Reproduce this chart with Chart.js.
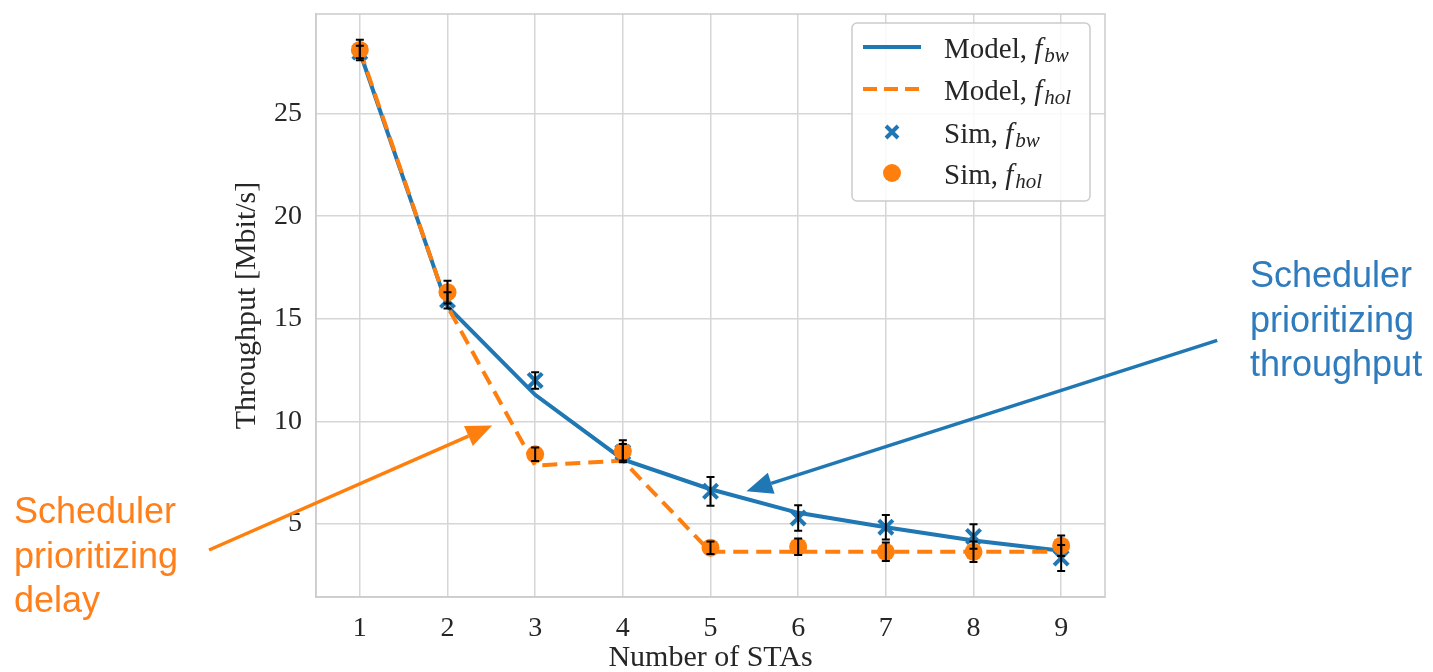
<!DOCTYPE html>
<html>
<head>
<meta charset="utf-8">
<script src="https://cdn.jsdelivr.net/npm/chart.js@4.4.1/dist/chart.umd.min.js"></script>
<style>
  body { margin: 0; background: #fff; }
  #wrap { width: 1433px; height: 672px; }
</style>
</head>
<body>
<div id="wrap"><canvas id="myChart" width="1433" height="672"></canvas></div>
<script>
// number of stations
var nSta = [1, 2, 3, 4, 5, 6, 7, 8, 9];
// model curves
var modelBw  = [28.0, 15.6, 11.3, 8.15, 6.7, 5.55, 4.85, 4.2, 3.7];
var modelHol = [28.1, 15.6, 7.85, 8.1, 3.65, 3.65, 3.65, 3.65, 3.65];
// simulation points and their error (+/-)
var simBw     = [28.0, 15.9, 12.0, 8.5, 6.6, 5.3, 4.85, 4.4, 3.35];
var simBwErr  = [0.3, 0.4, 0.4, 0.4, 0.7, 0.62, 0.6, 0.6, 0.63];
var simHol    = [28.1, 16.3, 8.4, 8.55, 3.85, 3.9, 3.65, 3.65, 3.95];
var simHolErr = [0.5, 0.55, 0.33, 0.53, 0.3, 0.4, 0.45, 0.5, 0.5];
var yTicks = [5, 10, 15, 20, 25];

var blue = '#1f77b4';
var orange = '#ff7f0e';
var serif = '"Liberation Serif", "DejaVu Serif", serif';

function pts(vals) {
    return vals.map(function (v, i) { return {x: nSta[i], y: v}; });
}

// top/right spines + error bars on top of the markers
var errorBars = {
    id: 'errorBars',
    beforeDatasetsDraw: function (chart) {
        var a = chart.chartArea, ctx = chart.ctx;
        ctx.save();
        ctx.strokeStyle = '#cccccc';
        ctx.lineWidth = 1.5;
        ctx.strokeRect(a.left, a.top, a.right - a.left, a.bottom - a.top);
        ctx.restore();
    },
    afterDatasetsDraw: function (chart) {
        var ctx = chart.ctx;
        var xs = chart.scales.x, ys = chart.scales.y;
        ctx.save();
        ctx.strokeStyle = '#000';
        ctx.lineWidth = 2;
        [[simBw, simBwErr], [simHol, simHolErr]].forEach(function (s) {
            s[0].forEach(function (v, i) {
                var x = xs.getPixelForValue(nSta[i]);
                var y1 = ys.getPixelForValue(v + s[1][i]);
                var y2 = ys.getPixelForValue(v - s[1][i]);
                ctx.beginPath();
                ctx.moveTo(x, y1); ctx.lineTo(x, y2);
                ctx.moveTo(x - 4, y1); ctx.lineTo(x + 4, y1);
                ctx.moveTo(x - 4, y2); ctx.lineTo(x + 4, y2);
                ctx.stroke();
            });
        });
        ctx.restore();
    }
};

// legend with italic subscripts
var fancyLegend = {
    id: 'fancyLegend',
    afterDraw: function (chart) {
        var ctx = chart.ctx;
        ctx.save();
        var bx = 852, by = 23, bw = 238, bh = 178;
        ctx.beginPath();
        ctx.roundRect(bx, by, bw, bh, 5);
        ctx.fillStyle = 'rgba(255,255,255,0.85)';
        ctx.fill();
        ctx.strokeStyle = '#cccccc';
        ctx.lineWidth = 1.5;
        ctx.stroke();

        var rows = [
            {kind: 'line', color: blue, dash: [], name: 'Model, ', sub: 'bw', y: 47},
            {kind: 'line', color: orange, dash: [14, 7], name: 'Model, ', sub: 'hol', y: 89},
            {kind: 'cross', color: blue, name: 'Sim, ', sub: 'bw', y: 132},
            {kind: 'dot', color: orange, name: 'Sim, ', sub: 'hol', y: 173}
        ];
        rows.forEach(function (r) {
            ctx.strokeStyle = r.color;
            ctx.fillStyle = r.color;
            if (r.kind === 'line') {
                ctx.lineWidth = 4;
                ctx.setLineDash(r.dash);
                ctx.beginPath();
                ctx.moveTo(863, r.y); ctx.lineTo(921, r.y);
                ctx.stroke();
                ctx.setLineDash([]);
            } else if (r.kind === 'cross') {
                ctx.lineWidth = 4;
                ctx.beginPath();
                ctx.moveTo(886, r.y - 6); ctx.lineTo(898, r.y + 6);
                ctx.moveTo(898, r.y - 6); ctx.lineTo(886, r.y + 6);
                ctx.stroke();
            } else {
                ctx.beginPath();
                ctx.arc(892, r.y, 9, 0, Math.PI * 2);
                ctx.fill();
            }
            var ty = r.y + 3;
            ctx.fillStyle = '#262626';
            ctx.textBaseline = 'middle';
            ctx.font = '29px ' + serif;
            ctx.fillText(r.name, 944, ty);
            var w = ctx.measureText(r.name).width;
            ctx.font = 'italic 29px ' + serif;
            ctx.fillText('f', 944 + w, ty);
            var wf = ctx.measureText('f').width;
            ctx.font = 'italic 21px ' + serif;
            ctx.fillText(r.sub, 944 + w + wf + 2, ty + 6);
        });
        ctx.restore();
    }
};

// arrows and notes
var notes = {
    id: 'notes',
    afterDraw: function (chart) {
        var ctx = chart.ctx;
        var xs = chart.scales.x, ys = chart.scales.y;
        function arrow(x0, y0, x1, y1, color) {
            var px0 = xs.getPixelForValue(x0), py0 = ys.getPixelForValue(y0);
            var px1 = xs.getPixelForValue(x1), py1 = ys.getPixelForValue(y1);
            var a = Math.atan2(py1 - py0, px1 - px0);
            var hl = 26, hw = 11;
            var bxp = px1 - hl * Math.cos(a), byp = py1 - hl * Math.sin(a);
            ctx.strokeStyle = color;
            ctx.fillStyle = color;
            ctx.lineWidth = 3.5;
            ctx.beginPath();
            ctx.moveTo(px0, py0); ctx.lineTo(bxp, byp);
            ctx.stroke();
            ctx.beginPath();
            ctx.moveTo(px1, py1);
            ctx.lineTo(bxp + hw * Math.sin(a), byp - hw * Math.cos(a));
            ctx.lineTo(bxp - hw * Math.sin(a), byp + hw * Math.cos(a));
            ctx.closePath();
            ctx.fill();
        }
        ctx.save();
        arrow(10.78, 13.95, 5.41, 6.6, blue);
        arrow(-0.72, 3.74, 2.51, 9.8, orange);

        ctx.font = '36px "Liberation Sans", Arial, sans-serif';
        ctx.textBaseline = 'alphabetic';
        ctx.fillStyle = '#2e7bbd';
        ['Scheduler', 'prioritizing', 'throughput'].forEach(function (t, i) {
            ctx.fillText(t, 1250, 287 + i * 44.5);
        });
        ctx.fillStyle = '#ff7f1a';
        ['Scheduler', 'prioritizing', 'delay'].forEach(function (t, i) {
            ctx.fillText(t, 14, 523 + i * 44.5);
        });
        ctx.restore();
    }
};

var ctx = document.getElementById('myChart');
var myChart = new Chart(ctx, {
    type: 'line',
    data: {
        datasets: [{
            label: 'Model, f_bw',
            data: pts(modelBw),
            borderColor: blue,
            borderWidth: 4,
            pointRadius: 0,
            fill: false,
            order: 4
        }, {
            label: 'Model, f_hol',
            data: pts(modelHol),
            borderColor: orange,
            borderWidth: 4,
            borderDash: [15, 8],
            pointRadius: 0,
            fill: false,
            order: 3
        }, {
            label: 'Sim, f_bw',
            data: pts(simBw),
            showLine: false,
            pointStyle: 'crossRot',
            pointRadius: 10,
            borderColor: blue,
            pointBorderWidth: 4,
            order: 2
        }, {
            label: 'Sim, f_hol',
            data: pts(simHol),
            showLine: false,
            pointStyle: 'circle',
            pointRadius: 9,
            backgroundColor: orange,
            borderColor: orange,
            pointBorderWidth: 0,
            order: 1
        }]
    },
    options: {
        animation: { duration: 0 },
        responsive: false,
        clip: false,
        layout: { padding: { left: 232, right: 328, top: 10, bottom: 0 } },
        plugins: {
            legend: { display: false },
            tooltip: { enabled: false }
        },
        scales: {
            x: {
                type: 'linear',
                min: 0.5,
                max: 9.5,
                afterFit: function (s) { s.height = 75; s.paddingLeft = 0; s.paddingRight = 0; },
                afterBuildTicks: function (s) {
                    s.ticks = nSta.map(function (v) { return {value: v}; });
                },
                grid: { color: '#d6d6d6', lineWidth: 1.5, drawTicks: false },
                border: { color: '#cccccc', width: 1.5 },
                ticks: { color: '#262626', font: { family: serif, size: 28 }, padding: 15, maxRotation: 0 },
                title: {
                    display: true,
                    text: 'Number of STAs',
                    color: '#262626',
                    font: { family: serif, size: 30, lineHeight: 0.95 },
                    padding: 0
                }
            },
            y: {
                min: 1.45,
                max: 29.85,
                afterFit: function (s) { s.width = 84; s.paddingTop = 0; s.paddingBottom = 0; },
                afterBuildTicks: function (s) {
                    s.ticks = yTicks.map(function (v) { return {value: v}; });
                },
                grid: { color: '#d6d6d6', lineWidth: 1.5, drawTicks: false },
                border: { color: '#cccccc', width: 1.5 },
                ticks: { color: '#262626', font: { family: serif, size: 28 }, padding: 14 },
                title: {
                    display: true,
                    text: 'Throughput [Mbit/s]',
                    color: '#262626',
                    font: { family: serif, size: 30, lineHeight: 1 },
                    padding: 0
                }
            }
        }
    },
    plugins: [errorBars, fancyLegend, notes]
});
</script>
</body>
</html>
